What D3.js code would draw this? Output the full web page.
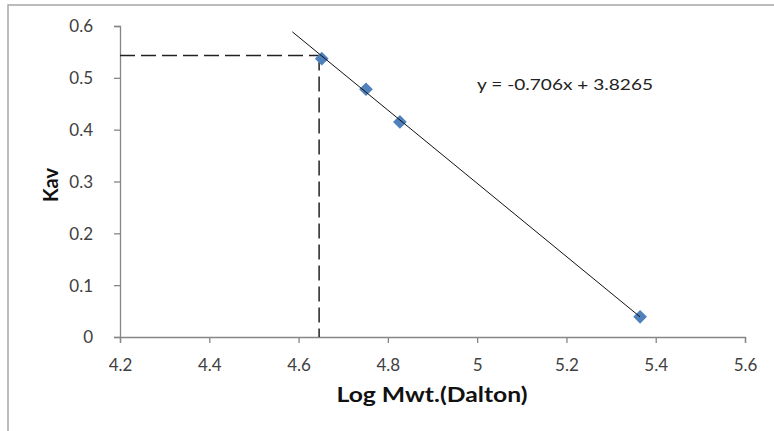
<!DOCTYPE html>
<html><head><meta charset="utf-8">
<script src="https://cdn.jsdelivr.net/npm/d3@7"></script>
<style>body{margin:0;background:#fff}svg{display:block}</style>
</head><body>
<script>
// data
const logMwt = [4.652, 4.751, 4.827, 5.365];
const kav = [0.537, 0.478, 0.415, 0.039];
const slope = -0.706, intercept = 3.8265;
const trendX = [4.586, 5.365];
const unknownX = 4.646, unknownY = 0.543;
const xTicks = [4.2, 4.4, 4.6, 4.8, 5, 5.2, 5.4, 5.6];
const yTicks = [0, 0.1, 0.2, 0.3, 0.4, 0.5, 0.6];
const equationText = "y = -0.706x + 3.8265";
const xTitle = "Log Mwt.(Dalton)", yTitle = "Kav";

const W = 774, H = 431;
const svg = d3.select("body").append("svg").attr("width", W).attr("height", H);
const font = "Lato, 'Open Sans', sans-serif";

// outer frame
svg.append("rect").attr("x", 8).attr("y", 5).attr("width", W).attr("height", H)
  .attr("fill", "none").attr("stroke", "#a6a6a6").attr("stroke-width", 1.5);

const x = d3.scaleLinear().domain([4.2, 5.6]).range([120, 745]);
const y = d3.scaleLinear().domain([0, 0.6]).range([337, 26]);

const xAxis = svg.append("g").attr("transform", "translate(0,337)")
  .call(d3.axisBottom(x).tickValues(xTicks).tickSize(6).tickFormat(d3.format("")));
const yAxis = svg.append("g").attr("transform", "translate(120,0)")
  .call(d3.axisLeft(y).tickValues(yTicks).tickSize(6).tickFormat(d3.format("")));
[xAxis, yAxis].forEach(a => {
  a.select(".domain").attr("stroke", "#868686").attr("stroke-width", 1.3);
  a.selectAll(".tick line").attr("stroke", "#868686").attr("stroke-width", 1.3);
  a.selectAll("text").attr("font-family", font).attr("font-size", 17).attr("fill", "#404040");
});
xAxis.selectAll("text").attr("dy", "0").attr("y", 34);
yAxis.selectAll("text").attr("x", -27).attr("dy", "0.35em");

// dashed guides
const guide = svg.append("g").attr("stroke", "#222").attr("stroke-width", 1.5)
  .attr("stroke-dasharray", "15,6").attr("fill", "none");
guide.append("line").attr("x1", x(4.2)).attr("x2", x(unknownX))
  .attr("y1", y(unknownY)).attr("y2", y(unknownY));
guide.append("line").attr("x1", x(unknownX)).attr("x2", x(unknownX))
  .attr("y1", y(unknownY)).attr("y2", y(0));

// points
const diamond = d3.symbol().type(d3.symbolDiamond2).size(120);
svg.append("g").selectAll("path").data(logMwt).join("path")
  .attr("d", diamond)
  .attr("transform", (d, i) => `translate(${x(d)},${y(kav[i])})`)
  .attr("fill", "#4f81bd");

// trend line
svg.append("path")
  .datum(trendX)
  .attr("d", d3.line().x(d => x(d)).y(d => y(slope * d + intercept)))
  .attr("stroke", "#111").attr("stroke-width", 1).attr("fill", "none");

// equation
svg.append("text").attr("x", 477).attr("y", 90).text(equationText)
  .attr("font-family", font).attr("font-size", 16).attr("fill", "#222")
  .attr("textLength", 176).attr("lengthAdjust", "spacingAndGlyphs");

// titles
svg.append("text").attr("x", 432).attr("y", 402).attr("text-anchor", "middle")
  .attr("font-family", font).attr("font-weight", "bold").attr("font-size", 20).attr("fill", "#111")
  .attr("textLength", 191).attr("lengthAdjust", "spacingAndGlyphs")
  .text(xTitle);
svg.append("text").attr("transform", "translate(58,185) rotate(-90)").attr("text-anchor", "middle")
  .attr("font-family", font).attr("font-weight", "bold").attr("font-size", 20).attr("fill", "#111")
  .text(yTitle);
</script>
</body></html>
